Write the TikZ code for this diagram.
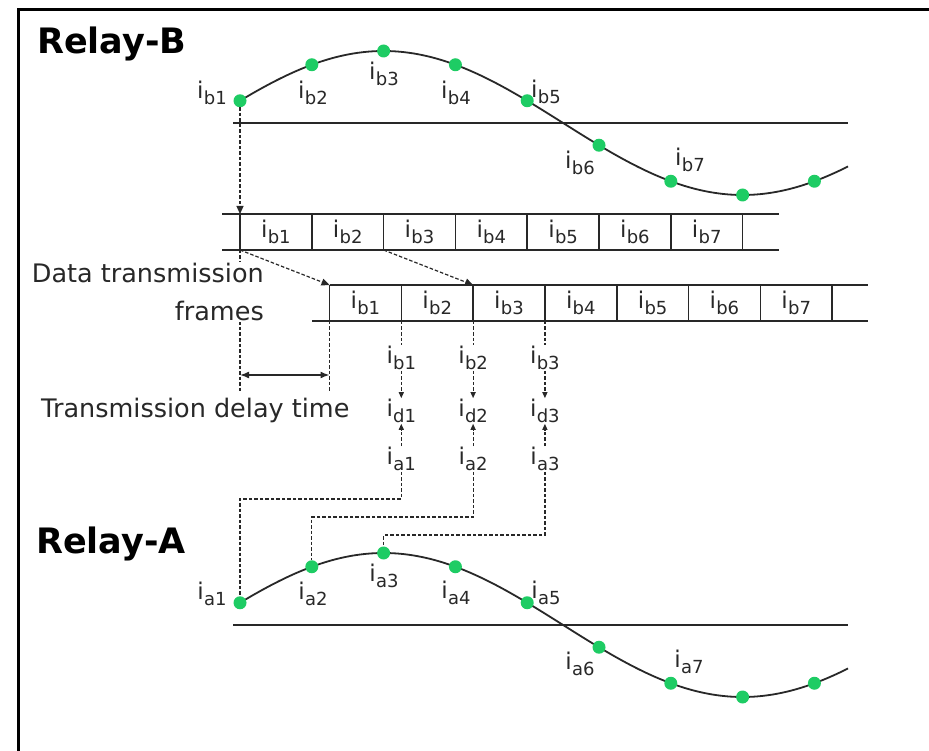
\documentclass[tikz,border=0pt]{standalone}
\usepackage{fontspec}
\setmainfont{DejaVu Sans}
\usetikzlibrary{arrows.meta,calc}
\definecolor{dotgreen}{RGB}{30,204,100}
\definecolor{ink}{RGB}{40,40,40}
\newcommand{\cur}[1]{{\fontsize{23}{23}\selectfont i}\kern0.3pt\raisebox{-5.5pt}{\fontsize{18}{18}\selectfont #1}}
\tikzset{
  dot/.style={circle, fill=dotgreen, inner sep=0pt, minimum size=13pt},
  lbl/.style={inner sep=1pt, text=ink},
  wave/.style={line width=1.8pt, ink},
  axisline/.style={line width=1.8pt, ink},
  frm/.style={line width=1.6pt, ink},
  dsh/.style={line width=1.2pt, ink, dash pattern=on 3.5pt off 2pt},
  tip/.style={-{Triangle[length=8pt,width=7pt]}},
  smalltip/.style={-{Triangle[length=6pt,width=5pt]}},
  txt/.style={font=\fontsize{25.5}{38}\selectfont, text=ink, inner sep=1pt, fill=white},
  ttl/.style={font=\fontsize{35}{35}\selectfont\bfseries, anchor=west, inner sep=0pt, text=black}
}
\begin{document}
\begin{tikzpicture}[x=1pt,y=-1pt]
\useasboundingbox (0,0) rectangle (929,751);
\fill[white] (0,0) rectangle (929,751);
\draw[line width=3pt] (18,751) -- (18,10) -- (929,10);

% titles
\node[ttl] (relB) at (37,44) {Relay-B};
\node[ttl] (relA) at (36,544) {Relay-A};

% waves with sampled points
\foreach \off/\n in {0/b,502/a} {
  \draw[axisline] (233,{123+\off}) -- (848,{123+\off});
  \draw[wave,domain=240:848,samples=120,smooth,variable=\t]
    plot (\t,{123+\off-72*sin((\t-204.1)/718*360)});
  \foreach \k in {1,...,9} {
    \pgfmathsetmacro\xx{240+71.8*(\k-1)}
    \pgfmathsetmacro\yy{123+\off-72*sin((\xx-204.1)/718*360)}
    \node[dot] (\n\k) at (\xx,\yy) {};
  }
}

% wave labels, Relay-B
\node[lbl] (tb1) at (212,93) {\cur{b1}};
\node[lbl] (tb2) at (313,93) {\cur{b2}};
\node[lbl] (tb3) at (384,74) {\cur{b3}};
\node[lbl] (tb4) at (456,93) {\cur{b4}};
\node[lbl] (tb5) at (546,92) {\cur{b5}};
\node[lbl] (tb6) at (580,163) {\cur{b6}};
\node[lbl] (tb7) at (690,160) {\cur{b7}};
% wave labels, Relay-A
\node[lbl] (ta1) at (212,594) {\cur{a1}};
\node[lbl] (ta2) at (313,594) {\cur{a2}};
\node[lbl] (ta3) at (384,576) {\cur{a3}};
\node[lbl] (ta4) at (456,593) {\cur{a4}};
\node[lbl] (ta5) at (546,593) {\cur{a5}};
\node[lbl] (ta6) at (580,664) {\cur{a6}};
\node[lbl] (ta7) at (689,662) {\cur{a7}};

% frame row 1
\draw[frm] (222,214) -- (779,214);
\draw[frm] (222,250) -- (779,250);
\foreach \k in {0,...,7} {
  \pgfmathsetmacro\xx{240+71.8*\k}
  \coordinate (r1t\k) at (\xx,214);
  \coordinate (r1b\k) at (\xx,250);
  \draw[frm] (r1t\k) -- (r1b\k);
}
\foreach \k in {1,...,7} {
  \pgfmathsetmacro\xx{240+71.8*(\k-1)+35.9}
  \node[lbl] (fa\k) at (\xx,232) {\cur{b\k}};
}
% frame row 2
\draw[frm] (329.5,285) -- (868,285);
\draw[frm] (312,321) -- (868,321);
\foreach \k in {0,...,7} {
  \pgfmathsetmacro\xx{329.5+71.8*\k}
  \coordinate (r2t\k) at (\xx,285);
  \coordinate (r2b\k) at (\xx,321);
  \draw[frm] (r2t\k) -- (r2b\k);
}
\foreach \k in {1,...,7} {
  \pgfmathsetmacro\xx{329.5+71.8*(\k-1)+35.9}
  \node[lbl] (fb\k) at (\xx,303) {\cur{b\k}};
}

% sampling / transmission arrows
\draw[dsh,tip] (b1) -- (r1t0);
\draw[dsh,tip] (r1b0) -- (r2t0);
\draw[dsh,tip] (r1b2) -- (r2t2);

% transmission delay
\coordinate (d0) at (240,392);
\coordinate (d1) at (329.5,392);
\draw[dsh] (r1b0) -- (d0);
\draw[dsh] (r2b0) -- (d1);
\coordinate (e0) at (240,375);
\coordinate (e1) at (329.5,375);
\draw[line width=1.6pt, ink, {Latex[length=9pt,width=7pt]}-{Latex[length=9pt,width=7pt]}] (e0) -- (e1);

% texts
\node[txt, align=right, anchor=north east] (dtf) at (265,262) {Data transmission\\frames};
\node[txt, anchor=west] (tdt) at (40,410) {Transmission delay time};

% differential columns
\coordinate (h1) at (0,499);
\coordinate (h2) at (0,517);
\coordinate (h3) at (0,535);
\foreach \k in {1,2,3} {
  \pgfmathsetmacro\xx{329.5+71.8*\k}
  \node[lbl] (cb\k) at (\xx,358) {\cur{b\k}};
  \node[lbl] (cd\k) at (\xx,411) {\cur{d\k}};
  \node[lbl] (ca\k) at (\xx,459) {\cur{a\k}};
  \draw[dsh] (r2b\k) -- (cb\k);
  \draw[dsh,smalltip] (cb\k) -- (cd\k);
  \draw[dsh,smalltip] (ca\k) -- (cd\k);
  \draw[dsh] (ca\k) -- (ca\k |- h\k) -| (a\k);
}
\end{tikzpicture}
\end{document}
